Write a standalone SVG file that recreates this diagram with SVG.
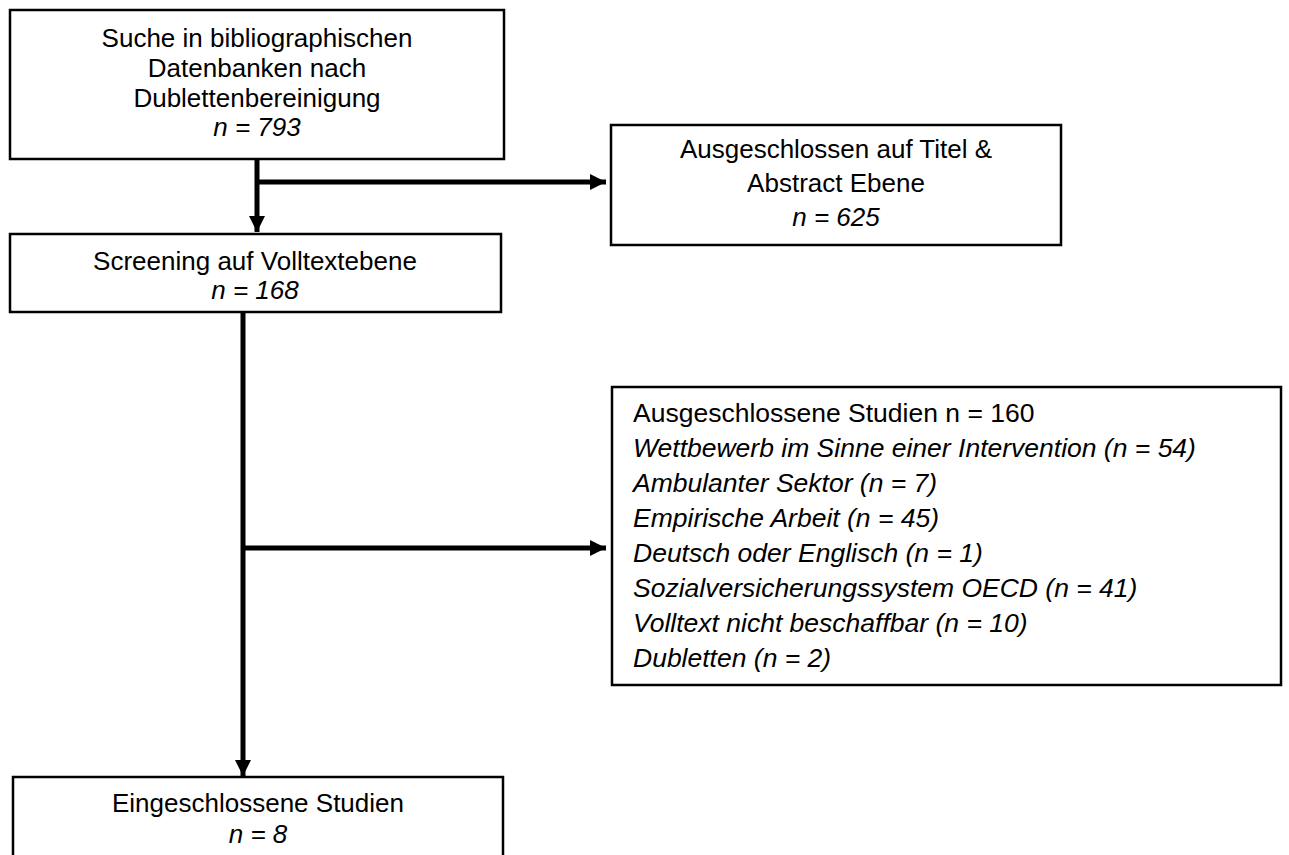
<svg xmlns="http://www.w3.org/2000/svg" width="1289" height="855" viewBox="0 0 1289 855">
<defs>
<style>
.box{fill:#fff;stroke:#000;stroke-width:2.5}
.t{font-family:"Liberation Sans",Arial,sans-serif;font-size:26px;fill:#000}
.b{font-size:26.5px}
.c{text-anchor:middle}
.i{font-style:italic}
.ln{stroke:#000;stroke-width:5;fill:none}
</style>
<marker id="ah" viewBox="0 0 10 10" refX="10" refY="5" markerWidth="3.2" markerHeight="3.2" markerUnits="strokeWidth" orient="auto">
<path d="M0,0 L10,5 L0,10 Z" fill="#000"/>
</marker>
</defs>
<rect width="1289" height="855" fill="#fff"/>
<g id="connectors">
<line class="ln" x1="257" y1="160" x2="257" y2="232" marker-end="url(#ah)"/>
<line class="ln" x1="257" y1="182" x2="606" y2="182" marker-end="url(#ah)"/>
<line class="ln" x1="243" y1="313" x2="243" y2="776" marker-end="url(#ah)"/>
<line class="ln" x1="243" y1="548" x2="606" y2="548" marker-end="url(#ah)"/>
</g>
<g id="n1">
<rect class="box" x="10" y="10" width="494" height="149"/>
<text class="t c" x="257" y="47">Suche in bibliographischen</text>
<text class="t c" x="257" y="77">Datenbanken nach</text>
<text class="t c" x="257" y="107">Dublettenbereinigung</text>
<text class="t c i" x="257" y="136">n = 793</text>
</g>
<g id="n2">
<rect class="box" x="611" y="125" width="450" height="120"/>
<text class="t c" x="836" y="158">Ausgeschlossen auf Titel &amp;</text>
<text class="t c" x="836" y="192">Abstract Ebene</text>
<text class="t c i" x="836" y="226">n = 625</text>
</g>
<g id="n3">
<rect class="box" x="10" y="234" width="491" height="78"/>
<text class="t c" x="255" y="270">Screening auf Volltextebene</text>
<text class="t c i" x="255" y="299">n = 168</text>
</g>
<g id="n4">
<rect class="box" x="612" y="387" width="669" height="298"/>
<text class="t b" x="633" y="422">Ausgeschlossene Studien n = 160</text>
<text class="t b i" x="633" y="457">Wettbewerb im Sinne einer Intervention (n = 54)</text>
<text class="t b i" x="633" y="492">Ambulanter Sektor (n = 7)</text>
<text class="t b i" x="633" y="527">Empirische Arbeit (n = 45)</text>
<text class="t b i" x="633" y="562">Deutsch oder Englisch (n = 1)</text>
<text class="t b i" x="633" y="597">Sozialversicherungssystem OECD (n = 41)</text>
<text class="t b i" x="633" y="632">Volltext nicht beschaffbar (n = 10)</text>
<text class="t b i" x="633" y="667">Dubletten (n = 2)</text>
</g>
<g id="n5">
<rect class="box" x="13" y="777" width="490" height="90"/>
<text class="t c" x="258" y="812">Eingeschlossene Studien</text>
<text class="t c i" x="258" y="843">n = 8</text>
</g>
</svg>
